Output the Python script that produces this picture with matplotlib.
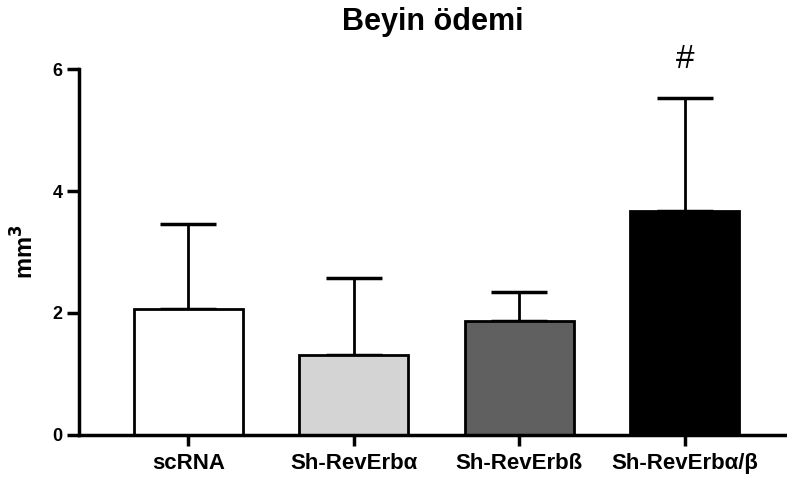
import matplotlib
matplotlib.use("Agg")
import matplotlib.pyplot as plt

plt.rcParams['font.family'] = ['Liberation Sans', 'DejaVu Sans']

# Gruplar ve ortalama ± SS değerleri (mm³)
groups = ["scRNA", "Sh-RevErbα", "Sh-RevErbß", "Sh-RevErbα/β"]
means = [2.06, 1.31, 1.87, 3.67]
sds = [1.40, 1.26, 0.47, 1.85]
colors = ["#ffffff", "#d4d4d4", "#606060", "#000000"]
marks = ["", "", "", "#"]

fig = plt.figure(figsize=(7.87, 4.80), dpi=100)
ax = fig.add_axes([0.1004, 0.094, 0.9, 0.762])

x = range(len(groups))
ax.bar(x, means, width=0.66, color=colors, edgecolor="black", linewidth=2, zorder=2)
ax.errorbar(x, means, yerr=[[0] * len(sds), sds], fmt="none", ecolor="black",
            elinewidth=2, capsize=20, capthick=2.5, zorder=1)

for i, (m, s, t) in enumerate(zip(means, sds, marks)):
    if t:
        ax.text(i, m + s + 0.38, t, ha="center", va="bottom", fontsize=24)

ax.set_xlim(-0.66, 3.62)
ax.set_ylim(0, 6)
ax.set_yticks([0, 2, 4, 6])
ax.set_xticks(list(x))
ax.set_xticklabels(groups, fontsize=16, fontweight="bold")
for lbl in ax.get_yticklabels():
    lbl.set_fontsize(13)
    lbl.set_fontweight("bold")

ax.spines["top"].set_visible(False)
ax.spines["right"].set_visible(False)
ax.spines["left"].set_linewidth(2.5)
ax.spines["bottom"].set_linewidth(2.5)
ax.tick_params(axis="y", width=2.5, length=9, pad=3)
ax.tick_params(axis="x", width=2.5, length=8, pad=5)

ax.set_ylabel("mm$^\\mathbf{3}$", fontsize=17, fontweight="bold", labelpad=10)
ax.set_title("Beyin ödemi", fontsize=22, fontweight="bold", pad=28)

fig.savefig("out.png", dpi=100)
